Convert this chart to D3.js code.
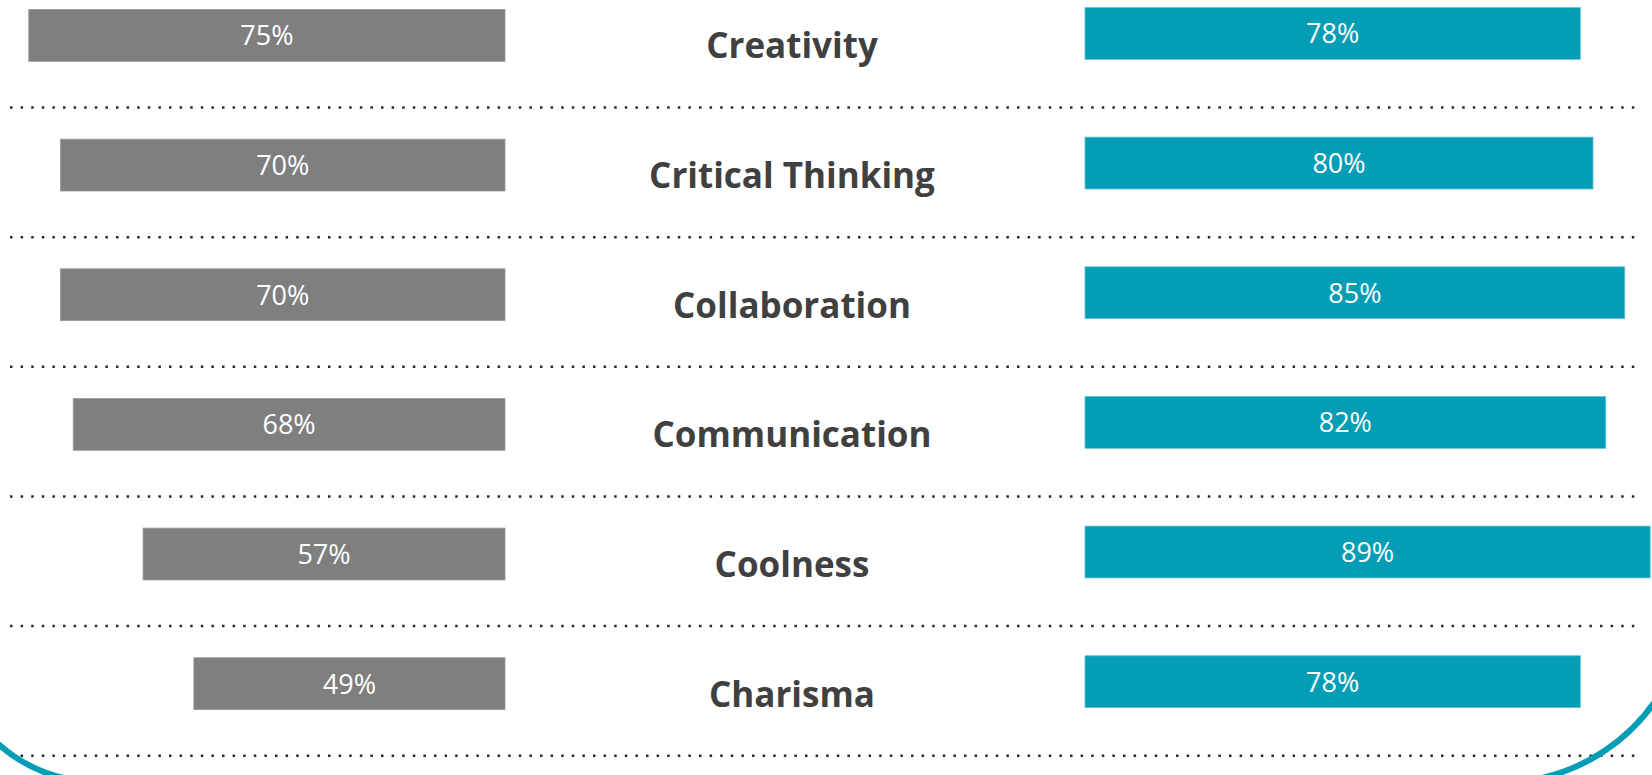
<!DOCTYPE html>
<html>
<head>
<meta charset="utf-8">
<script src="https://cdn.jsdelivr.net/npm/d3@7"></script>
<style>
  html, body { margin: 0; padding: 0; background: #fff; overflow: hidden; }
</style>
</head>
<body>
<div id="chart"></div>
<script>
// Data
const skills = ["Creativity", "Critical Thinking", "Collaboration", "Communication", "Coolness", "Charisma"];
const leftValues = [75, 70, 70, 68, 57, 49];
const rightValues = [78, 80, 85, 82, 89, 78];

const width = 1652;
const height = 775;

const svg = d3.select("#chart")
  .append("svg")
  .attr("width", width)
  .attr("height", height);

// Row positions
const y = d3.scaleBand()
  .domain(skills)
  .range([-29.4, 748.5])
  .paddingInner(0.6)
  .paddingOuter(0.3);

// Left bars grow leftwards from x=505, right bars grow rightwards from x=1085
const xLeft = d3.scaleLinear().domain([0, 100]).range([505, 505 - 635]);
const xRight = d3.scaleLinear().domain([0, 100]).range([1085, 1085 + 635]);

const grey = "#7f7f7f";
const teal = "#039eb6";

// Dotted separators under each row
svg.selectAll("line.sep")
  .data(skills)
  .enter()
  .append("line")
  .attr("class", "sep")
  .attr("x1", 10)
  .attr("x2", 1636)
  .attr("y1", d => y(d) + 98)
  .attr("y2", d => y(d) + 98)
  .style("stroke", "#262a30")
  .style("stroke-width", 2.5)
  .style("stroke-dasharray", "2.5,8.1");

// Left (grey) bars
svg.selectAll("rect.left")
  .data(skills)
  .enter()
  .append("rect")
  .attr("class", "left")
  .attr("x", (d, i) => xLeft(leftValues[i]))
  .attr("y", d => y(d))
  .attr("width", (d, i) => xLeft(0) - xLeft(leftValues[i]))
  .attr("height", y.bandwidth())
  .style("fill", grey)
  .style("stroke", "#9a9a9a")
  .style("stroke-width", 0.8);

// Right (teal) bars
svg.selectAll("rect.right")
  .data(skills)
  .enter()
  .append("rect")
  .attr("class", "right")
  .attr("x", xRight(0))
  .attr("y", d => y(d) - 2)
  .attr("width", (d, i) => xRight(rightValues[i]) - xRight(0))
  .attr("height", y.bandwidth())
  .style("fill", teal)
  .style("stroke", "#5fc3d3")
  .style("stroke-width", 0.8);

// Value labels
svg.selectAll("text.lval")
  .data(skills)
  .enter()
  .append("text")
  .attr("class", "lval")
  .attr("x", (d, i) => (xLeft(leftValues[i]) + xLeft(0)) / 2)
  .attr("y", d => y(d) + y.bandwidth() / 2 + 10)
  .attr("text-anchor", "middle")
  .style("font-family", "'Open Sans', sans-serif")
  .style("font-size", "27px")
  .style("fill", "#fff")
  .text((d, i) => leftValues[i] + "%");

svg.selectAll("text.rval")
  .data(skills)
  .enter()
  .append("text")
  .attr("class", "rval")
  .attr("x", (d, i) => (xRight(rightValues[i]) + xRight(0)) / 2)
  .attr("y", d => y(d) - 2 + y.bandwidth() / 2 + 10)
  .attr("text-anchor", "middle")
  .style("font-family", "'Open Sans', sans-serif")
  .style("font-size", "27px")
  .style("fill", "#fff")
  .text((d, i) => rightValues[i] + "%");

// Category names in the middle
svg.selectAll("text.cat")
  .data(skills)
  .enter()
  .append("text")
  .attr("class", "cat")
  .attr("x", 792)
  .attr("y", d => y(d) + 49)
  .attr("text-anchor", "middle")
  .style("font-family", "'Open Sans', sans-serif")
  .style("font-size", "35px")
  .style("font-weight", "bold")
  .style("fill", "#404040")
  .text(d => d);

// Teal frame corners peeking in at the bottom
svg.append("path")
  .attr("d", "M -8 738 A 150 150 0 0 0 74 780")
  .style("fill", "none")
  .style("stroke", teal)
  .style("stroke-width", 6);

svg.append("path")
  .attr("d", "M 1532 780 A 190 190 0 0 0 1660 694")
  .style("fill", "none")
  .style("stroke", teal)
  .style("stroke-width", 6);
</script>
</body>
</html>
